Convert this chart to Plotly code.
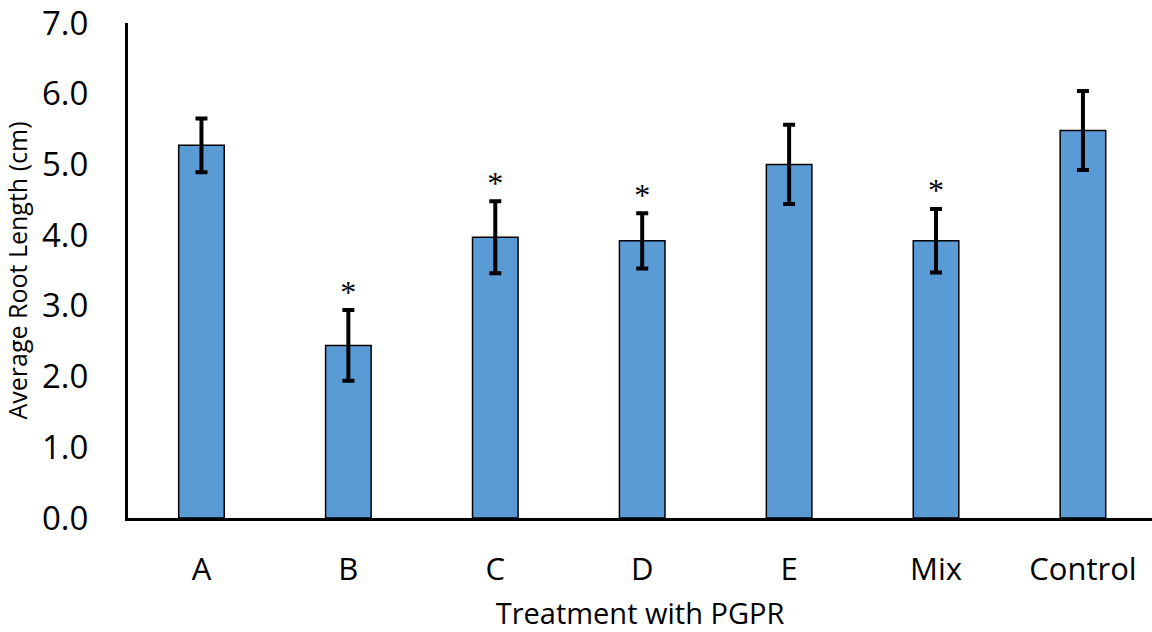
import plotly.graph_objects as go

categories = ["A", "B", "C", "D", "E", "Mix", "Control"]
means = [5.27, 2.44, 3.97, 3.92, 5.00, 3.92, 5.48]
errors = [0.38, 0.50, 0.51, 0.39, 0.56, 0.45, 0.56]
significant = [False, True, True, True, False, True, False]
y_ticks = [0, 1, 2, 3, 4, 5, 6, 7]

fig = go.Figure()
fig.add_trace(go.Bar(
    x=categories, y=means,
    width=0.31,
    marker=dict(color="#5B9BD5", line=dict(color="black", width=1.5)),
    error_y=dict(type="data", array=errors, visible=True, color="black",
                 thickness=4, width=6),
    showlegend=False,
))

star_x = [c for c, s in zip(categories, significant) if s]
star_y = [m + e + 0.22 for m, e, s in zip(means, errors, significant) if s]
fig.add_trace(go.Scatter(
    x=star_x, y=star_y, mode="text", text=["*"] * len(star_x),
    textfont=dict(family="Liberation Serif", size=32, color="black"),
    showlegend=False, hoverinfo="skip",
))

fig.update_layout(
    width=1152, height=632,
    margin=dict(l=128, r=0, t=21, b=114),
    plot_bgcolor="white", paper_bgcolor="white",
    font=dict(family="Open Sans", color="black"),
    bargap=0.69,
)
fig.update_xaxes(
    range=[-0.5, 6.47],
    showline=True, linecolor="black", linewidth=3,
    showgrid=False, ticks="", ticklabelstandoff=22,
    tickfont=dict(size=31),
    title=dict(text="Treatment with PGPR", font=dict(size=29), standoff=20),
)
fig.update_yaxes(
    range=[0, 7], tickvals=y_ticks, tickformat=".1f",
    showline=True, linecolor="black", linewidth=3,
    showgrid=False, ticks="", zeroline=False, ticklabelstandoff=30,
    ticklabeloverflow="allow",
    tickfont=dict(size=33),
    title=dict(text="Average Root Length (cm)", font=dict(size=25), standoff=14),
)

fig.write_html(
    "out.html",
    config={"displayModeBar": False},
    post_script="document.body.style.margin='0';document.body.style.overflow='hidden';",
)
